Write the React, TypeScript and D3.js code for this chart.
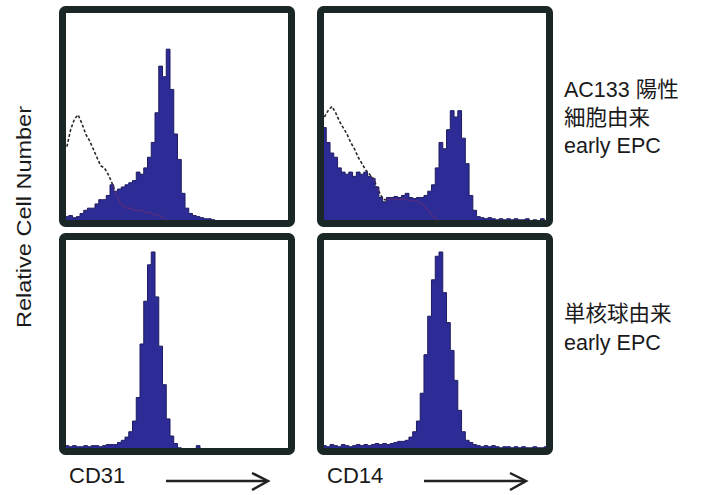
import React from "react";
import * as d3 from "d3";

// relative cell counts (0-100) per fluorescence channel bin, 60 bins per panel
const cd31Ac133 = [
  3, 3.5, 2.5, 3, 4.5, 6, 7, 7, 9, 11,
  11, 13, 18, 15, 16, 17, 18, 19, 20, 24,
  23, 26, 31, 38, 52, 74, 69, 82, 63, 42,
  30, 14, 7, 4.5, 3.5, 3, 2.5, 2, 2, 1.5,
  0.8, 0, 0, 0, 0, 0, 0, 0, 0, 0,
  0, 0, 0, 0, 0, 0, 0, 0, 0, 0,
];
const cd31Ac133Control = [
  36, 44, 49, 51, 47, 42, 39, 35, 31, 27,
  26, 23, 19, 14, 10, 8, 7, 7, 6, 6,
  6, 5, 5, 4, 4, 3, 2, 1, 0.5, 0,
  0, 0, 0, 0, 0, 0, 0, 0, 0, 0,
  0, 0, 0, 0, 0, 0, 0, 0, 0, 0,
  0, 0, 0, 0, 0, 0, 0, 0, 0, 0,
];
const cd14Ac133 = [
  45, 38, 33, 31, 26, 24, 23, 24, 22, 24,
  23, 24, 22, 21, 17, 12, 10, 12, 12, 12.5,
  12, 13, 14, 12, 11.5, 12, 12, 13, 15, 18,
  26, 38, 35, 44, 53, 50, 53, 40, 28, 13,
  6, 3, 2.5, 2, 2.5, 2, 1.5, 2, 1.5, 2,
  1.5, 2, 1.5, 1.5, 2, 1, 1.5, 1, 2, 1,
];
const cd14Ac133Control = [
  50, 53, 55, 52, 48, 45, 42, 38, 35, 31,
  28, 25, 23, 21, 17, 13, 11, 11, 11.5, 11,
  11, 11.5, 11, 10.5, 10.5, 10, 9, 7, 5, 3,
  1.5, 0.8, 0, 0, 0, 0, 0, 0, 0, 0,
  0, 0, 0, 0, 0, 0, 0, 0, 0, 0,
  0, 0, 0, 0, 0, 0, 0, 0, 0, 0,
];
const cd31Mono = [
  2.5, 2, 2.5, 2, 2, 2.5, 2, 2.5, 2.5, 2,
  2.5, 3, 3, 3, 4, 5, 6.5, 9, 14, 25,
  50, 70, 87, 93, 72, 49, 31, 15, 7, 3.5,
  1.5, 1, 1, 1, 1, 2.5, 1, 0.5, 0.5, 0.5,
  0.5, 0.5, 0.5, 0.5, 0.5, 0.5, 0.5, 0.5, 0.5, 0.5,
  0.5, 0.5, 0.5, 0.5, 0.5, 0.5, 0.5, 0.5, 0.5, 0.5,
];
const cd14Mono = [
  2.5, 2, 3, 2.5, 2, 3, 2.5, 2, 2.5, 3,
  2.5, 3, 2.5, 3, 3.5, 3, 3.5, 3, 3.5, 4,
  4.5, 4.5, 5, 6.5, 9, 14, 27, 45, 63, 80,
  91, 93, 74, 60, 47, 33, 19, 9, 5, 4,
  3, 2.5, 2, 2.5, 2, 2.5, 2, 1.5, 2, 2,
  1.5, 2, 1.5, 2, 1.5, 1.5, 2, 1.5, 1.5, 2,
];

const markers = ["CD31", "CD14"];
const rowLabels = [
  ["AC133 陽性", "細胞由来", "early EPC"],
  ["単核球由来", "early EPC"],
];
const yTitle = "Relative Cell Number";

const FONT = "'Liberation Sans', Arial, 'Noto Sans CJK JP', sans-serif";
const FILL = "#2d2b95";
const BORDER = "#1b2626";

const panels = [
  { key: "tl", x: 59, y: 6, w: 236, h: 221, xr: [65, 290], yr: [223, 11], data: cd31Ac133, ctrl: cd31Ac133Control },
  { key: "tr", x: 317, y: 6, w: 236, h: 221, xr: [322.5, 548], yr: [223, 11], data: cd14Ac133, ctrl: cd14Ac133Control },
  { key: "bl", x: 59, y: 233, w: 236, h: 222, xr: [65, 290], yr: [451, 237], data: cd31Mono, ctrl: null },
  { key: "br", x: 317, y: 233, w: 236, h: 222, xr: [322.5, 548], yr: [451, 237], data: cd14Mono, ctrl: null },
];

const Panel = ({ p }) => {
  const n = p.data.length;
  const x = d3.scaleLinear().domain([0, n]).range(p.xr);
  const y = d3.scaleLinear().domain([0, 100]).range(p.yr);

  const steps = p.data.map((v, i) => [i, v]);
  steps.push([n, p.data[n - 1]]);
  const area = d3
    .area()
    .x((d) => x(d[0]))
    .y0(p.yr[0])
    .y1((d) => y(d[1]))
    .curve(d3.curveStepAfter);
  const areaPath = area(steps);

  const line = d3
    .line()
    .x((d) => x(d[0] + 0.5))
    .y((d) => y(d[1]));
  const ctrlPath = p.ctrl ? line(p.ctrl.map((v, i) => [i, v])) : null;

  const bw = 7;
  return (
    <g>
      <defs>
        <clipPath id={`inner-${p.key}`}>
          <rect x={p.x + bw} y={p.y + bw} width={p.w - 2 * bw} height={p.h - 2 * bw} />
        </clipPath>
        <clipPath id={`fill-${p.key}`}>
          <path d={areaPath} />
        </clipPath>
      </defs>
      <g clipPath={`url(#inner-${p.key})`}>
        {ctrlPath && (
          <path d={ctrlPath} fill="none" stroke="#2a2a2a" strokeWidth={1.6} strokeDasharray="3 2" />
        )}
        <path d={areaPath} fill={FILL} stroke="#1e1c60" strokeWidth={1} />
        {ctrlPath && (
          <path
            d={ctrlPath}
            fill="none"
            stroke="#8c2f5a"
            strokeWidth={1.2}
            opacity={0.45}
            clipPath={`url(#fill-${p.key})`}
          />
        )}
      </g>
      <rect
        x={p.x + bw / 2}
        y={p.y + bw / 2}
        width={p.w - bw}
        height={p.h - bw}
        rx={3}
        fill="none"
        stroke={BORDER}
        strokeWidth={bw}
      />
    </g>
  );
};

const App = () => {
  return (
    <svg
      width={705}
      height={495}
      style={{ position: "absolute", left: 0, top: 0, background: "#fff" }}
      fontFamily={FONT}
    >
      <rect width={705} height={495} fill="#fff" />
      {panels.map((p) => (
        <Panel key={p.key} p={p} />
      ))}

      <text
        transform="translate(31,217) rotate(-90)"
        textAnchor="middle"
        fontSize={20}
        textLength={222}
        lengthAdjust="spacingAndGlyphs"
        fill="#1a1a1a"
      >
        {yTitle}
      </text>

      {markers.map((m, i) => {
        const px = panels[i].x;
        const ay = 481;
        return (
          <g key={m} stroke="#222" strokeWidth={2.5} fill="none">
            <text x={px + 10} y={483} fontSize={22} fill="#1a1a1a" stroke="none">
              {m}
            </text>
            <line x1={px + 107} x2={px + 208} y1={ay} y2={ay} />
            <polyline points={`${px + 193},${ay - 8} ${px + 209},${ay} ${px + 193},${ay + 9}`} />
          </g>
        );
      })}

      {rowLabels[0].map((t, i) => (
        <text key={"r0" + i} x={564} y={[97, 125, 153][i]} fontSize={21.5} fill="#1a1a1a">
          {t}
        </text>
      ))}
      {rowLabels[1].map((t, i) => (
        <text key={"r1" + i} x={564} y={[321, 350][i]} fontSize={21.5} fill="#1a1a1a">
          {t}
        </text>
      ))}
    </svg>
  );
};

export default App;
